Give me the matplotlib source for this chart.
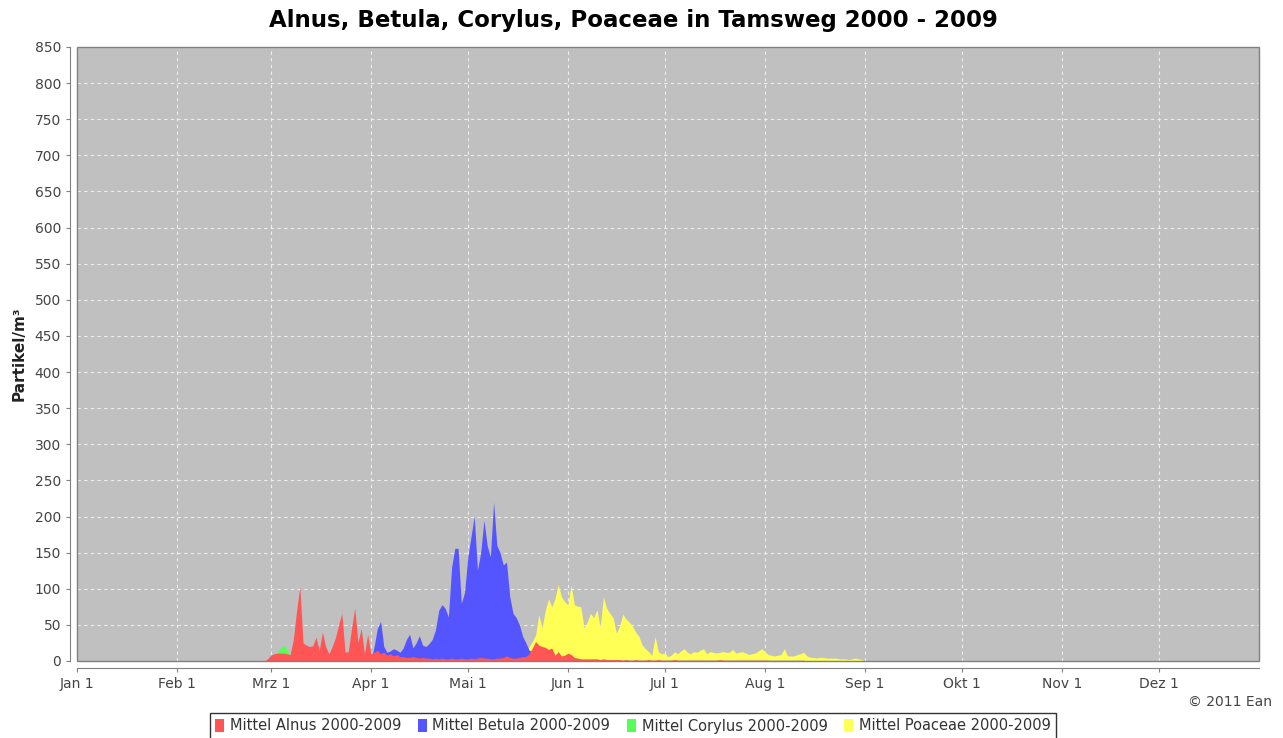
import numpy as np
import pandas as pd
import matplotlib
matplotlib.use("Agg")
import matplotlib.pyplot as plt
from matplotlib.patches import Patch, Rectangle

# daily means, values start at the given day of year (0 = Jan 1)
alnus_start = 58
alnus = [0, 3, 8, 10, 11, 11, 11, 10, 9, 30, 70, 103, 25, 22, 20, 21, 33, 15, 40, 20,
         10, 20, 32, 50, 66, 12, 13, 45, 73, 26, 45, 10, 37, 10, 12, 15, 10, 12, 8, 10,
         7, 9, 6, 6, 5, 5, 6, 5, 4, 5, 4, 4, 3, 4, 3, 4, 3, 3, 4, 3,
         3, 4, 3, 3, 4, 3, 4, 5, 4, 4, 3, 3, 4, 4, 5, 7, 5, 4, 4, 5,
         6, 6, 10, 18, 27, 22, 20, 19, 16, 18, 8, 13, 7, 8, 11, 9, 5, 4, 3, 3,
         3, 3, 3, 3, 2, 3, 2, 2, 2, 2, 2, 1, 2, 1, 1, 2, 1, 1, 1, 2,
         1, 1, 2, 1, 1, 1, 1, 2, 1, 1, 1, 1, 1, 1, 1, 1, 1, 1, 1, 1,
         1, 2, 1, 1, 1, 1, 1, 1, 1, 1, 1, 1, 1, 1, 1, 1, 1, 0]

betula_start = 91
betula = [0, 20, 45, 55, 20, 12, 14, 17, 15, 12, 18, 30, 37, 18, 25, 35, 22, 20, 24, 30,
          43, 70, 78, 73, 61, 130, 156, 156, 80, 95, 143, 172, 200, 126, 150, 195, 160, 144, 220, 160,
          150, 133, 137, 89, 66, 60, 50, 34, 25, 15, 13, 4, 2, 3, 2, 2, 1, 1, 1, 1,
          1, 1, 1, 1, 1, 1, 1, 1, 1, 1, 1, 1, 1, 1, 1, 1, 1, 1, 1, 1,
          1, 1, 1, 1, 1, 1, 1, 1, 1, 1, 1, 1, 1, 1, 1, 1, 1, 1, 1, 1,
          1, 1, 1, 1, 1, 1, 1, 1, 1, 1, 1, 1, 1, 1, 1, 1, 1, 1, 1, 1,
          1, 1, 1, 1, 1, 1, 1, 1, 1, 1, 1, 1, 1, 1, 1, 0]

corylus_start = 57
corylus = [0, 0, 1, 3, 6, 12, 18, 22, 16, 8, 4, 2, 1, 1, 1, 1, 1, 1, 1, 1,
           1, 1, 1, 1, 1, 1, 8, 1, 1, 1, 1, 1, 1, 0]

poaceae_start = 137
poaceae = [0, 5, 12, 20, 27, 36, 64, 46, 70, 86, 75, 86, 106, 89, 82, 78, 105, 78, 76, 75,
           46, 54, 66, 60, 71, 47, 89, 73, 66, 60, 39, 48, 65, 58, 54, 48, 40, 34, 22, 17,
           13, 8, 34, 13, 10, 11, 6, 8, 13, 10, 14, 17, 12, 10, 13, 12, 15, 17, 10, 13,
           12, 11, 12, 13, 12, 12, 16, 11, 12, 13, 11, 9, 10, 11, 14, 17, 13, 9, 8, 7,
           8, 9, 17, 7, 7, 7, 9, 10, 12, 7, 5, 5, 4, 5, 5, 4, 4, 4, 4, 3,
           3, 3, 2, 3, 4, 3, 2, 0]

labels = ["Mittel Alnus 2000-2009", "Mittel Betula 2000-2009",
          "Mittel Corylus 2000-2009", "Mittel Poaceae 2000-2009"]
colors = ["#FF5555", "#5555FF", "#55FF55", "#FFFF55"]
month_labels = ["Jan 1", "Feb 1", "Mrz 1", "Apr 1", "Mai 1", "Jun 1",
                "Jul 1", "Aug 1", "Sep 1", "Okt 1", "Nov 1", "Dez 1"]

days = pd.date_range("2000-01-01", "2000-12-31", freq="D")


def full_year(start, vals):
    y = np.zeros(len(days))
    y[start:start + len(vals)] = vals
    return y


series = [full_year(alnus_start, alnus), full_year(betula_start, betula),
          full_year(corylus_start, corylus), full_year(poaceae_start, poaceae)]

fig = plt.figure(figsize=(12.83, 7.38), dpi=100)
ax = fig.add_axes([77 / 1283, 1 - 661 / 738, (1259 - 77) / 1283, (661 - 47) / 738])
ax.set_facecolor("#C0C0C0")

# JFreeChart draws the last series first
for i in [3, 2, 1, 0]:
    ax.fill_between(days, 0, series[i], color=colors[i], linewidth=0, zorder=2)

ax.set_xlim(pd.Timestamp("2000-01-01"), pd.Timestamp("2001-01-01"))
ax.set_ylim(0, 850)
ax.set_yticks(np.arange(0, 851, 50))
ax.set_xticks(pd.date_range("2000-01-01", "2000-12-01", freq="MS"))
ax.set_xticklabels(month_labels)

ax.grid(True, color="#EEEEEE", linestyle=(0, (3, 3)), linewidth=0.8, zorder=1)
ax.set_axisbelow(True)

# plot outline
ax.add_patch(Rectangle((0, 0), 1, 1, transform=ax.transAxes, fill=False,
                       edgecolor="#808080", linewidth=1.0, zorder=5, clip_on=False))

for s in ["top", "right"]:
    ax.spines[s].set_visible(False)
ax.spines["left"].set_position(("outward", 5))
ax.spines["bottom"].set_position(("outward", 5))
ax.spines["left"].set_color("#808080")
ax.spines["bottom"].set_color("#808080")
ax.tick_params(axis="both", colors="#808080", labelcolor="#444444",
               labelsize=10, length=3, width=0.8)

ax.set_ylabel("Partikel/m³", fontsize=11, fontweight="bold", color="#222222", labelpad=6)
fig.text(633 / 1283, 1 - 21 / 738, "Alnus, Betula, Corylus, Poaceae in Tamsweg 2000 - 2009",
         fontsize=16.5, fontweight="bold", ha="center", va="center")

fig.text(1272 / 1283, 1 - 702 / 738, "© 2011 Ean", ha="right", va="center",
         fontsize=10, color="#444444")

handles = [Patch(facecolor=c, edgecolor="none") for c in colors]
leg = fig.legend(handles, labels, loc="center", bbox_to_anchor=(633 / 1283, 1 - 726 / 738),
                 ncol=4, fontsize=10.5, frameon=True, fancybox=False,
                 handlelength=0.6, handleheight=0.9, handletextpad=0.4,
                 columnspacing=1.15, borderpad=0.35, borderaxespad=0)
leg.get_frame().set_edgecolor("black")
leg.get_frame().set_linewidth(1.0)
for t in leg.get_texts():
    t.set_color("#333333")

fig.savefig("out.png", dpi=100)
